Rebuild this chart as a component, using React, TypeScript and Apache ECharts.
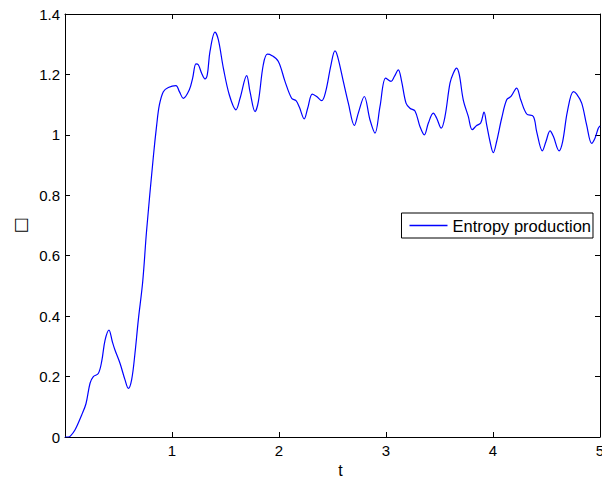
import React, { useEffect, useRef } from "react";
import * as echarts from "echarts";

const tValues = [
  0, 0.03, 0.05, 0.093, 0.156, 0.196, 0.234, 0.265, 0.311, 0.343, 0.374, 0.411, 0.442, 0.467, 0.514,
  0.561, 0.592, 0.623, 0.654, 0.685, 0.726, 0.763, 0.825, 0.857, 0.882, 0.919, 0.966, 1.037, 1.069,
  1.106, 1.162, 1.193, 1.224, 1.246, 1.277, 1.308, 1.33, 1.355, 1.402, 1.433, 1.48, 1.536, 1.598,
  1.636, 1.698, 1.729, 1.776, 1.807, 1.853, 1.891, 1.931, 1.994, 2.056, 2.118, 2.159, 2.19, 2.236,
  2.268, 2.311, 2.352, 2.399, 2.436, 2.486, 2.523, 2.548, 2.601, 2.648, 2.704, 2.741, 2.797, 2.85,
  2.897, 2.944, 2.997, 3.047, 3.078, 3.115, 3.146, 3.187, 3.224, 3.271, 3.318, 3.358, 3.396, 3.442,
  3.474, 3.516, 3.551, 3.598, 3.629, 3.66, 3.685, 3.722, 3.769, 3.806, 3.847, 3.885, 3.916, 3.941,
  3.972, 4.003, 4.034, 4.081, 4.128, 4.168, 4.221, 4.259, 4.315, 4.377, 4.408, 4.461, 4.495, 4.533,
  4.564, 4.617, 4.651, 4.695, 4.751, 4.782, 4.829, 4.875, 4.922, 4.953, 4.984, 5.0,
];

const entropyValues = [
  0, 0, 0.003, 0.023, 0.073, 0.11, 0.178, 0.2, 0.21, 0.25, 0.32, 0.354, 0.316, 0.288, 0.244,
  0.189, 0.161, 0.19, 0.277, 0.387, 0.513, 0.685, 0.925, 1.033, 1.099, 1.143, 1.157, 1.163, 1.143,
  1.121, 1.149, 1.188, 1.235, 1.232, 1.204, 1.185, 1.199, 1.276, 1.34, 1.315, 1.221, 1.132, 1.083,
  1.121, 1.196, 1.143, 1.077, 1.11, 1.232, 1.267, 1.263, 1.243, 1.177, 1.121, 1.113, 1.092, 1.053,
  1.088, 1.135, 1.127, 1.113, 1.143, 1.232, 1.278, 1.259, 1.177, 1.105, 1.031, 1.072, 1.127, 1.05,
  1.006, 1.094, 1.188, 1.177, 1.193, 1.215, 1.177, 1.105, 1.088, 1.079, 1.027, 1.0, 1.039, 1.072,
  1.055, 1.022, 1.06, 1.171, 1.204, 1.221, 1.199, 1.116, 1.061, 1.017, 1.031, 1.039, 1.075, 1.033,
  0.978, 0.941, 0.978, 1.055, 1.116, 1.127, 1.155, 1.116, 1.069, 1.061, 1.011, 0.947, 0.978, 1.013,
  0.995, 0.947, 0.978, 1.077, 1.143, 1.135, 1.105, 1.033, 0.972, 0.989, 1.022, 1.03,
];

const xTicks = { min: 0, max: 5, interval: 1 };
const yTicks = { min: 0, max: 1.4, interval: 0.2 };

const FONT = "'Liberation Sans', Arial, Helvetica, sans-serif";

export default function App() {
  const ref = useRef<HTMLDivElement>(null);

  useEffect(() => {
    document.body.style.margin = "0";
    if (!ref.current) return;
    const chart = echarts.init(ref.current, undefined, { renderer: "svg" });
    const data = tValues.map((t, i) => [t, entropyValues[i]]);
    const lineStyle = { color: "#000", width: 1 };
    chart.setOption({
      animation: false,
      backgroundColor: "#fff",
      textStyle: { fontFamily: FONT },
      grid: {
        left: 65,
        right: 2,
        top: 14,
        bottom: 41,
        containLabel: false,
        outerBoundsMode: "none",
      },
      legend: {
        right: 9,
        top: 213,
        data: [{ name: "Entropy production", icon: "rect" }],
        backgroundColor: "#fff",
        borderColor: "#000",
        borderWidth: 1,
        borderRadius: 0,
        padding: [4, 2, 4, 8],
        itemWidth: 38,
        itemHeight: 1.3,
        itemStyle: { color: "#0000ff", borderWidth: 0 },
        textStyle: { fontSize: 16.5, color: "#000", fontFamily: FONT },
      },
      xAxis: [
        {
          type: "value",
          ...xTicks,
          name: "t",
          nameLocation: "middle",
          nameGap: 21,
          nameTextStyle: { fontSize: 16, color: "#000", fontFamily: FONT, padding: [0, 0, 0, 16] },
          axisLine: { show: true, onZero: false, lineStyle },
          axisTick: { show: true, inside: true, length: 5, lineStyle },
          axisLabel: {
            show: true,
            margin: 6,
            fontSize: 15,
            color: "#000",
            fontFamily: FONT,
            formatter: (v: number) => (v === 0 ? "" : String(v)),
          },
          splitLine: { show: false },
        },
        {
          type: "value",
          ...xTicks,
          position: "top",
          axisLine: { show: true, onZero: false, lineStyle },
          axisTick: { show: true, inside: true, length: 5, lineStyle },
          axisLabel: { show: false },
          splitLine: { show: false },
        },
      ],
      yAxis: [
        {
          type: "value",
          ...yTicks,
          name: "□",
          nameLocation: "middle",
          nameRotate: 90,
          nameGap: 37,
          nameTextStyle: { fontSize: 17, color: "#000", fontFamily: "DejaVu Sans, sans-serif" },
          axisLine: { show: true, onZero: false, lineStyle },
          axisTick: { show: true, inside: true, length: 5, lineStyle },
          axisLabel: { show: true, margin: 5, fontSize: 15, color: "#000", fontFamily: FONT },
          splitLine: { show: false },
        },
        {
          type: "value",
          ...yTicks,
          position: "right",
          axisLine: { show: true, onZero: false, lineStyle },
          axisTick: { show: true, inside: true, length: 5, lineStyle },
          axisLabel: { show: false },
          splitLine: { show: false },
        },
      ],
      series: [
        {
          name: "Entropy production",
          type: "line",
          xAxisIndex: 0,
          yAxisIndex: 0,
          data,
          smooth: 0.35,
          symbol: "none",
          showSymbol: false,
          lineStyle: { color: "#0000ff", width: 1.2 },
          itemStyle: { color: "#0000ff" },
        },
      ],
    });
    return () => chart.dispose();
  }, []);

  return <div ref={ref} style={{ width: 602, height: 478 }} />;
}
